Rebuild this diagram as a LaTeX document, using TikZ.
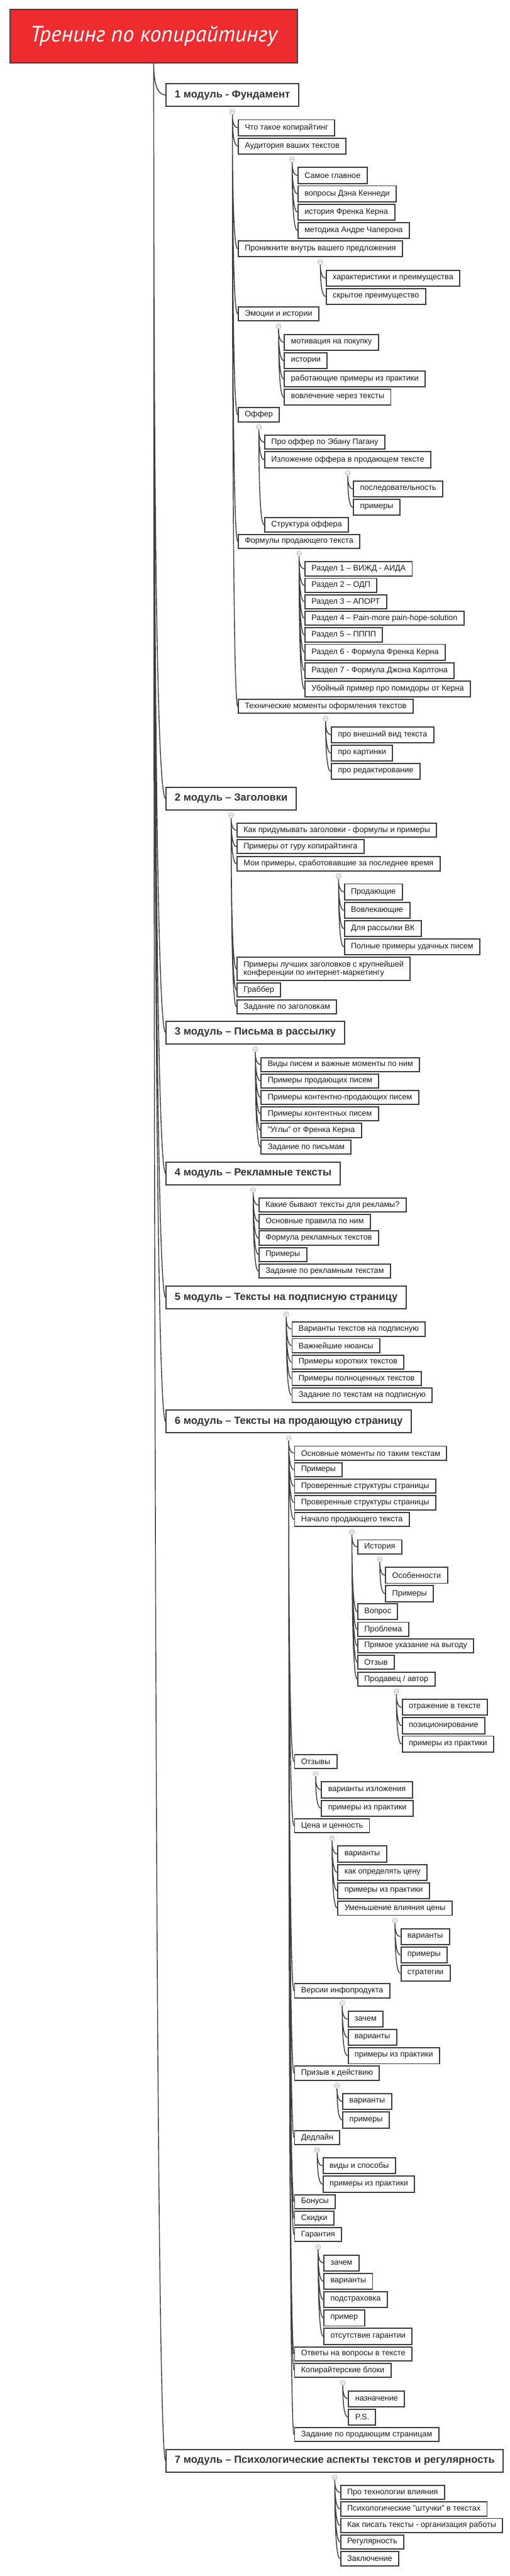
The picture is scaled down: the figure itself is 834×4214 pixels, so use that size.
\documentclass[tikz,border=0pt]{standalone}
\usepackage{fontspec}
\setmainfont{Liberation Sans}
\newfontfamily\titlefont{PT Sans}
\usepackage{tikz}
\usetikzlibrary{positioning,calc,backgrounds}
\definecolor{boxC}{RGB}{64,64,64}
\definecolor{lineC}{RGB}{64,64,64}
\definecolor{titleC}{RGB}{238,43,46}
\definecolor{foldC}{RGB}{160,176,214}
\definecolor{textC}{RGB}{25,25,25}
\definecolor{modC}{RGB}{51,51,51}
\tikzset{
  titlebox/.style={rectangle, draw=boxC, line width=1.5pt, fill=titleC,
                   minimum width=353.25pt, minimum height=66pt, text=white,
                   font=\titlefont\itshape\fontsize{27.5pt}{32pt}\selectfont},
  modbox/.style={rectangle, draw=boxC, line width=1.5pt, fill=white, anchor=west,
                 minimum height=27.75pt, inner xsep=10.5pt, inner ysep=0pt,
                 font=\fontsize{12.75pt}{14pt}\selectfont\bfseries, text=modC},
  leafbox/.style={rectangle, draw=boxC, line width=1.5pt, fill=white, anchor=west,
                  xshift=6.5pt, minimum height=19.5pt, inner xsep=8pt, inner ysep=0pt,
                  align=left, font=\fontsize{9.75pt}{10.75pt}\selectfont, text=textC},
  linebox/.style={leafbox, minimum height=17.25pt},
  fold/.style={circle, draw=foldC, fill=white, line width=0.6pt, minimum size=6pt,
               inner sep=0pt,
               path picture={\draw[foldC, line width=0.6pt]
                 ([xshift=-1.7pt]path picture bounding box.center) --
                 ([xshift=1.7pt]path picture bounding box.center);}},
  link/.style={draw=lineC, line width=1.1pt,
               to path={.. controls ($(\tikztostart)!0.667!(\tikztostart |- \tikztotarget)$)
                        and ($(\tikztotarget)!0.667!(\tikztostart |- \tikztotarget)$) .. (\tikztotarget)}},
}
\begin{document}
\begin{tikzpicture}[x=0.75pt, y=-0.75pt]
  \useasboundingbox (0,0) rectangle (834,4214);
  \node[titlebox] (title) at (251.5,59) {Тренинг по копирайтингу};

  % 1 модуль
  \node[modbox] (m1) at (271,155.5) {1 модуль - Фундамент};
  \node[fold, below=2.5pt of m1] (fm1) {};
  \node[leafbox] (m1a) at (fm1 |- 0,209) {Что такое копирайтинг};
  \node[leafbox] (m1b) at (fm1 |- 0,239) {Аудитория ваших текстов};
  \node[fold, below=2.5pt of m1b] (fm1b) {};
  \node[leafbox] (m1b1) at (fm1b |- 0,287) {Самое главное};
  \node[leafbox] (m1b2) at (fm1b |- 0,317) {вопросы Дэна Кеннеди};
  \node[leafbox] (m1b3) at (fm1b |- 0,347) {история Френка Керна};
  \node[leafbox] (m1b4) at (fm1b |- 0,377) {методика Андре Чаперона};
  \node[leafbox] (m1c) at (fm1 |- 0,407) {Проникните внутрь вашего предложения};
  \node[fold, below=2.5pt of m1c] (fm1c) {};
  \node[leafbox] (m1c1) at (fm1c |- 0,455) {характеристики и преимущества};
  \node[leafbox] (m1c2) at (fm1c |- 0,485) {скрытое преимущество};
  \node[linebox] (m1d) at (fm1 |- 0,513.5) {Эмоции и истории};
  \node[fold, below=2.5pt of m1d] (fm1d) {};
  \node[leafbox] (m1d1) at (fm1d |- 0,560) {мотивация на покупку};
  \node[leafbox] (m1d2) at (fm1d |- 0,590) {истории};
  \node[leafbox] (m1d3) at (fm1d |- 0,620) {работающие примеры из практики};
  \node[leafbox] (m1d4) at (fm1d |- 0,650) {вовлечение через тексты};
  \node[linebox] (m1e) at (fm1 |- 0,678.5) {Оффер};
  \node[fold, below=2.5pt of m1e] (fm1e) {};
  \node[linebox] (m1e1) at (fm1e |- 0,723.5) {Про оффер по Эбану Пагану};
  \node[leafbox] (m1e2) at (fm1e |- 0,752) {Изложение оффера в продающем тексте};
  \node[fold, below=2.5pt of m1e2] (fm1e2) {};
  \node[leafbox] (m1e2a) at (fm1e2 |- 0,800) {последовательность};
  \node[leafbox] (m1e2b) at (fm1e2 |- 0,830) {примеры};
  \node[linebox] (m1e3) at (fm1e |- 0,858.5) {Структура оффера};
  \node[linebox] (m1f) at (fm1 |- 0,885.5) {Формулы продающего текста};
  \node[fold, below=2.5pt of m1f] (fm1f) {};
  \node[linebox] (m1f1) at (fm1f |- 0,930.5) {Раздел 1 – ВИЖД - АИДА};
  \node[linebox] (m1f2) at (fm1f |- 0,957.5) {Раздел 2 – ОДП};
  \node[linebox] (m1f3) at (fm1f |- 0,984.5) {Раздел 3 – АПОРТ};
  \node[linebox] (m1f4) at (fm1f |- 0,1011.5) {Раздел 4 – Pain-more pain-hope-solution};
  \node[linebox] (m1f5) at (fm1f |- 0,1038.5) {Раздел 5 – ПППП};
  \node[leafbox] (m1f6) at (fm1f |- 0,1067) {Раздел 6 - Формула Френка Керна};
  \node[leafbox] (m1f7) at (fm1f |- 0,1097) {Раздел 7 - Формула Джона Карлтона};
  \node[leafbox] (m1f8) at (fm1f |- 0,1127) {Убойный пример про помидоры от Керна};
  \node[linebox] (m1g) at (fm1 |- 0,1155.5) {Технические моменты оформления текстов};
  \node[fold, below=2.5pt of m1g] (fm1g) {};
  \node[leafbox] (m1g1) at (fm1g |- 0,1202) {про внешний вид текста};
  \node[leafbox] (m1g2) at (fm1g |- 0,1232) {про картинки};
  \node[leafbox] (m1g3) at (fm1g |- 0,1262) {про редактирование};

  % 2 модуль
  \node[modbox] (m2) at (271,1306.5) {2 модуль – Заголовки};
  \node[fold, below=2.5pt of m2] (fm2) {};
  \node[linebox] (m2a) at (fm2 |- 0,1358.3) {Как придумывать заголовки - формулы и примеры};
  \node[linebox] (m2b) at (fm2 |- 0,1385) {Примеры от гуру копирайтинга};
  \node[linebox] (m2c) at (fm2 |- 0,1413) {Мои примеры, сработовавшие за последнее время};
  \node[fold, below=2.5pt of m2c] (fm2c) {};
  \node[leafbox] (m2c1) at (fm2c |- 0,1459) {Продающие};
  \node[leafbox] (m2c2) at (fm2c |- 0,1489) {Вовлекающие};
  \node[leafbox] (m2c3) at (fm2c |- 0,1519) {Для рассылки ВК};
  \node[leafbox] (m2c4) at (fm2c |- 0,1549) {Полные примеры удачных писем};
  \node[leafbox, minimum height=28.5pt] (m2d) at (fm2 |- 0,1585)
    {Примеры лучших заголовков с крупнейшей\\конференции по интернет-маркетингу};
  \node[linebox] (m2e) at (fm2 |- 0,1619.5) {Граббер};
  \node[linebox] (m2f) at (fm2 |- 0,1647) {Задание по заголовкам};

  % 3 модуль
  \node[modbox] (m3) at (271,1689) {3 модуль – Письма в рассылку};
  \node[fold, below=2.5pt of m3] (fm3) {};
  \node[linebox] (m3a) at (fm3 |- 0,1741.5) {Виды писем и важные моменты по ним};
  \node[linebox] (m3b) at (fm3 |- 0,1768.3) {Примеры продающих писем};
  \node[linebox] (m3c) at (fm3 |- 0,1795.3) {Примеры контентно-продающих писем};
  \node[linebox] (m3d) at (fm3 |- 0,1822.3) {Примеры контентных писем};
  \node[linebox] (m3e) at (fm3 |- 0,1849.3) {"Углы" от Френка Керна};
  \node[linebox] (m3f) at (fm3 |- 0,1876.5) {Задание по письмам};

  % 4 модуль
  \node[modbox] (m4) at (271,1919.5) {4 модуль – Рекламные тексты};
  \node[fold, below=2.5pt of m4] (fm4) {};
  \node[linebox] (m4a) at (fm4 |- 0,1971.3) {Какие бывают тексты для рекламы?};
  \node[linebox] (m4b) at (fm4 |- 0,1998.3) {Основные правила по ним};
  \node[linebox] (m4c) at (fm4 |- 0,2025.3) {Формула рекламных текстов};
  \node[linebox] (m4d) at (fm4 |- 0,2052.3) {Примеры};
  \node[linebox] (m4e) at (fm4 |- 0,2079.3) {Задание по рекламным текстам};

  % 5 модуль
  \node[modbox] (m5) at (271,2122.7) {5 модуль – Тексты на подписную страницу};
  \node[fold, below=2.5pt of m5] (fm5) {};
  \node[linebox] (m5a) at (fm5 |- 0,2174.3) {Варианты текстов на подписную};
  \node[linebox] (m5b) at (fm5 |- 0,2201.3) {Важнейшие нюансы};
  \node[linebox] (m5c) at (fm5 |- 0,2228.3) {Примеры коротких текстов};
  \node[linebox] (m5d) at (fm5 |- 0,2255.3) {Примеры полноценных текстов};
  \node[linebox] (m5e) at (fm5 |- 0,2282.3) {Задание по текстам на подписную};

  % 6 модуль
  \node[modbox] (m6) at (271,2325.3) {6 модуль – Тексты на продающую страницу};
  \node[fold, below=2.5pt of m6] (fm6) {};
  \node[linebox] (m6a) at (fm6 |- 0,2377.2) {Основные моменты по таким текстам};
  \node[linebox] (m6b) at (fm6 |- 0,2404.2) {Примеры};
  \node[linebox] (m6c) at (fm6 |- 0,2431.2) {Проверенные структуры страницы};
  \node[linebox] (m6d) at (fm6 |- 0,2458.2) {Проверенные структуры страницы};
  \node[linebox] (m6e) at (fm6 |- 0,2485.7) {Начало продающего текста};
  \node[fold, below=2.5pt of m6e] (fm6e) {};
  \node[linebox] (m6e1) at (fm6e |- 0,2530.5) {История};
  \node[fold, below=2.5pt of m6e1] (fm6e1) {};
  \node[leafbox] (m6e1a) at (fm6e1 |- 0,2577) {Особенности};
  \node[leafbox] (m6e1b) at (fm6e1 |- 0,2607) {Примеры};
  \node[leafbox] (m6e2) at (fm6e |- 0,2636.5) {Вопрос};
  \node[linebox] (m6e3) at (fm6e |- 0,2665.3) {Проблема};
  \node[linebox] (m6e4) at (fm6e |- 0,2692.3) {Прямое указание на выгоду};
  \node[linebox] (m6e5) at (fm6e |- 0,2719.3) {Отзыв};
  \node[linebox] (m6e6) at (fm6e |- 0,2746.7) {Продавец / автор};
  \node[fold, below=2.5pt of m6e6] (fm6e6) {};
  \node[leafbox] (m6e6a) at (fm6e6 |- 0,2793) {отражение в тексте};
  \node[leafbox] (m6e6b) at (fm6e6 |- 0,2823) {позиционирование};
  \node[leafbox] (m6e6c) at (fm6e6 |- 0,2853) {примеры из практики};
  \node[linebox] (m6f) at (fm6 |- 0,2881.7) {Отзывы};
  \node[fold, below=2.5pt of m6f] (fm6f) {};
  \node[leafbox] (m6f1) at (fm6f |- 0,2928) {варианты изложения};
  \node[leafbox] (m6f2) at (fm6f |- 0,2958) {примеры из практики};
  \node[linebox] (m6g) at (fm6 |- 0,2986.7) {Цена и ценность};
  \node[fold, below=2.5pt of m6g] (fm6g) {};
  \node[leafbox] (m6g1) at (fm6g |- 0,3033) {варианты};
  \node[leafbox] (m6g2) at (fm6g |- 0,3063) {как определять цену};
  \node[leafbox] (m6g3) at (fm6g |- 0,3093) {примеры из практики};
  \node[linebox] (m6g4) at (fm6g |- 0,3121.7) {Уменьшение влияния цены};
  \node[fold, below=2.5pt of m6g4] (fm6g4) {};
  \node[leafbox] (m6g4a) at (fm6g4 |- 0,3168) {варианты};
  \node[leafbox] (m6g4b) at (fm6g4 |- 0,3198) {примеры};
  \node[leafbox] (m6g4c) at (fm6g4 |- 0,3228) {стратегии};
  \node[linebox] (m6h) at (fm6 |- 0,3256.7) {Версии инфопродукта};
  \node[fold, below=2.5pt of m6h] (fm6h) {};
  \node[leafbox] (m6h1) at (fm6h |- 0,3303) {зачем};
  \node[leafbox] (m6h2) at (fm6h |- 0,3333) {варианты};
  \node[leafbox] (m6h3) at (fm6h |- 0,3363) {примеры из практики};
  \node[linebox] (m6i) at (fm6 |- 0,3391.5) {Призыв к действию};
  \node[fold, below=2.5pt of m6i] (fm6i) {};
  \node[leafbox] (m6i1) at (fm6i |- 0,3438) {варианты};
  \node[leafbox] (m6i2) at (fm6i |- 0,3468) {примеры};
  \node[linebox] (m6j) at (fm6 |- 0,3496.7) {Дедлайн};
  \node[fold, below=2.5pt of m6j] (fm6j) {};
  \node[leafbox] (m6j1) at (fm6j |- 0,3543) {виды и способы};
  \node[leafbox] (m6j2) at (fm6j |- 0,3573) {примеры из практики};
  \node[linebox] (m6k) at (fm6 |- 0,3601.7) {Бонусы};
  \node[linebox] (m6l) at (fm6 |- 0,3628.7) {Скидки};
  \node[linebox] (m6m) at (fm6 |- 0,3655.5) {Гарантия};
  \node[fold, below=2.5pt of m6m] (fm6m) {};
  \node[leafbox] (m6m1) at (fm6m |- 0,3702) {зачем};
  \node[leafbox] (m6m2) at (fm6m |- 0,3732) {варианты};
  \node[leafbox] (m6m3) at (fm6m |- 0,3762) {подстраховка};
  \node[leafbox] (m6m4) at (fm6m |- 0,3792) {пример};
  \node[leafbox] (m6m5) at (fm6m |- 0,3822) {отсутствие гарантии};
  \node[linebox] (m6n) at (fm6 |- 0,3850.5) {Ответы на вопросы в тексте};
  \node[linebox] (m6o) at (fm6 |- 0,3877.3) {Копирайтерские блоки};
  \node[fold, below=2.5pt of m6o] (fm6o) {};
  \node[leafbox] (m6o1) at (fm6o |- 0,3924) {назначение};
  \node[leafbox] (m6o2) at (fm6o |- 0,3954) {P.S.};
  \node[linebox] (m6p) at (fm6 |- 0,3982.5) {Задание по продающим страницам};

  % 7 модуль
  \node[modbox] (m7) at (271,4025.3) {7 модуль – Психологические аспекты текстов и регулярность};
  \node[fold, below=2.5pt of m7] (fm7) {};
  \node[linebox] (m7a) at (fm7 |- 0,4077.3) {Про технологии влияния};
  \node[linebox] (m7b) at (fm7 |- 0,4104.3) {Психологические "штучки" в текстах};
  \node[linebox] (m7c) at (fm7 |- 0,4131.3) {Как писать тексты - организация работы};
  \node[linebox] (m7d) at (fm7 |- 0,4158.3) {Регулярность};
  \node[linebox] (m7e) at (fm7 |- 0,4185.5) {Заключение};

  % Connectors
  \begin{scope}[on background layer]
    \draw[link] (title.south) to (m1.west) (title.south) to (m2.west)
      (title.south) to (m3.west) (title.south) to (m4.west) (title.south) to (m5.west)
      (title.south) to (m6.west) (title.south) to (m7.west);
    \draw[link] (fm1) to (m1a.west) (fm1) to (m1b.west) (fm1) to (m1c.west)
      (fm1) to (m1d.west) (fm1) to (m1e.west) (fm1) to (m1f.west) (fm1) to (m1g.west);
    \draw[link] (fm1b) to (m1b1.west) (fm1b) to (m1b2.west) (fm1b) to (m1b3.west) (fm1b) to (m1b4.west);
    \draw[link] (fm1c) to (m1c1.west) (fm1c) to (m1c2.west);
    \draw[link] (fm1d) to (m1d1.west) (fm1d) to (m1d2.west) (fm1d) to (m1d3.west) (fm1d) to (m1d4.west);
    \draw[link] (fm1e) to (m1e1.west) (fm1e) to (m1e2.west) (fm1e) to (m1e3.west);
    \draw[link] (fm1e2) to (m1e2a.west) (fm1e2) to (m1e2b.west);
    \draw[link] (fm1f) to (m1f1.west) (fm1f) to (m1f2.west) (fm1f) to (m1f3.west) (fm1f) to (m1f4.west)
      (fm1f) to (m1f5.west) (fm1f) to (m1f6.west) (fm1f) to (m1f7.west) (fm1f) to (m1f8.west);
    \draw[link] (fm1g) to (m1g1.west) (fm1g) to (m1g2.west) (fm1g) to (m1g3.west);
    \draw[link] (fm2) to (m2a.west) (fm2) to (m2b.west) (fm2) to (m2c.west)
      (fm2) to (m2d.west) (fm2) to (m2e.west) (fm2) to (m2f.west);
    \draw[link] (fm2c) to (m2c1.west) (fm2c) to (m2c2.west) (fm2c) to (m2c3.west) (fm2c) to (m2c4.west);
    \draw[link] (fm3) to (m3a.west) (fm3) to (m3b.west) (fm3) to (m3c.west)
      (fm3) to (m3d.west) (fm3) to (m3e.west) (fm3) to (m3f.west);
    \draw[link] (fm4) to (m4a.west) (fm4) to (m4b.west) (fm4) to (m4c.west) (fm4) to (m4d.west) (fm4) to (m4e.west);
    \draw[link] (fm5) to (m5a.west) (fm5) to (m5b.west) (fm5) to (m5c.west) (fm5) to (m5d.west) (fm5) to (m5e.west);
    \draw[link] (fm6) to (m6a.west) (fm6) to (m6b.west) (fm6) to (m6c.west) (fm6) to (m6d.west)
      (fm6) to (m6e.west) (fm6) to (m6f.west) (fm6) to (m6g.west) (fm6) to (m6h.west)
      (fm6) to (m6i.west) (fm6) to (m6j.west) (fm6) to (m6k.west) (fm6) to (m6l.west)
      (fm6) to (m6m.west) (fm6) to (m6n.west) (fm6) to (m6o.west) (fm6) to (m6p.west);
    \draw[link] (fm6e) to (m6e1.west) (fm6e) to (m6e2.west) (fm6e) to (m6e3.west)
      (fm6e) to (m6e4.west) (fm6e) to (m6e5.west) (fm6e) to (m6e6.west);
    \draw[link] (fm6e1) to (m6e1a.west) (fm6e1) to (m6e1b.west);
    \draw[link] (fm6e6) to (m6e6a.west) (fm6e6) to (m6e6b.west) (fm6e6) to (m6e6c.west);
    \draw[link] (fm6f) to (m6f1.west) (fm6f) to (m6f2.west);
    \draw[link] (fm6g) to (m6g1.west) (fm6g) to (m6g2.west) (fm6g) to (m6g3.west) (fm6g) to (m6g4.west);
    \draw[link] (fm6g4) to (m6g4a.west) (fm6g4) to (m6g4b.west) (fm6g4) to (m6g4c.west);
    \draw[link] (fm6h) to (m6h1.west) (fm6h) to (m6h2.west) (fm6h) to (m6h3.west);
    \draw[link] (fm6i) to (m6i1.west) (fm6i) to (m6i2.west);
    \draw[link] (fm6j) to (m6j1.west) (fm6j) to (m6j2.west);
    \draw[link] (fm6m) to (m6m1.west) (fm6m) to (m6m2.west) (fm6m) to (m6m3.west)
      (fm6m) to (m6m4.west) (fm6m) to (m6m5.west);
    \draw[link] (fm6o) to (m6o1.west) (fm6o) to (m6o2.west);
    \draw[link] (fm7) to (m7a.west) (fm7) to (m7b.west) (fm7) to (m7c.west) (fm7) to (m7d.west) (fm7) to (m7e.west);
  \end{scope}
\end{tikzpicture}
\end{document}
